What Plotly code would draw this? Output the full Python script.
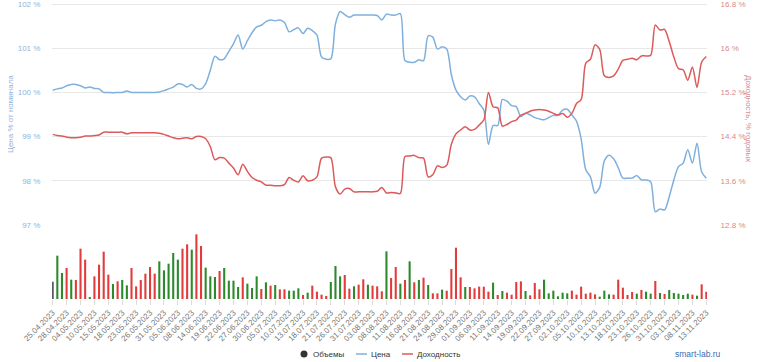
import datetime as dt
import plotly.graph_objects as go

# ---------------- data ----------------
holidays = {"01.05.2023", "09.05.2023", "12.06.2023"}
dates = []
d = dt.date(2023, 4, 25)
while d <= dt.date(2023, 11, 13):
    s = d.strftime("%d.%m.%Y")
    if d.weekday() < 5 and s not in holidays:
        dates.append(s)
    d += dt.timedelta(days=1)

price = [100.05, 100.08, 100.10, 100.15, 100.18, 100.18, 100.15, 100.10, 100.12, 100.09,
         100.08, 100.00, 100.00, 99.99, 100.00, 100.00, 100.03, 100.00, 100.00, 100.00,
         100.00, 100.00, 100.00, 100.01, 100.04, 100.08, 100.12, 100.19, 100.18, 100.12,
         100.18, 100.09, 100.08, 100.20, 100.50, 100.82, 100.74, 100.76, 100.93, 101.10,
         101.30, 100.98, 101.17, 101.35, 101.48, 101.52, 101.60, 101.64, 101.62, 101.64,
         101.58, 101.37, 101.42, 101.46, 101.33, 101.45, 101.40, 101.30, 100.80, 100.75,
         100.76, 101.55, 101.83, 101.76, 101.70, 101.75, 101.75, 101.75, 101.75, 101.75,
         101.74, 101.64, 101.77, 101.75, 101.75, 101.78, 100.72, 100.68, 100.68, 100.74,
         100.72, 101.28, 101.25, 100.98, 101.03, 100.98, 100.40, 100.05, 99.90, 99.83,
         99.92, 99.90, 99.75, 99.60, 98.82, 99.25, 99.25, 99.84, 99.80, 99.70,
         99.68, 99.45, 99.53, 99.49, 99.43, 99.40, 99.38, 99.43, 99.48, 99.48,
         99.60, 99.62, 99.49, 99.35, 98.95, 98.25, 98.09, 97.72, 97.85, 98.45,
         98.58, 98.50, 98.30, 98.06, 98.06, 98.06, 98.12, 98.02, 98.02, 97.98,
         97.30, 97.36, 97.34, 97.64, 98.02, 98.32, 98.40, 98.70, 98.40, 98.85,
         98.20, 98.06]

yld = [14.44, 14.42, 14.41, 14.39, 14.38, 14.38, 14.39, 14.41, 14.41, 14.42,
       14.43, 14.48, 14.48, 14.48, 14.48, 14.48, 14.45, 14.47, 14.47, 14.47,
       14.47, 14.47, 14.47, 14.46, 14.44, 14.41, 14.38, 14.36, 14.37, 14.38,
       14.36, 14.40, 14.40, 14.36, 14.22, 13.98, 14.02, 14.01, 13.92, 13.83,
       13.71, 13.90, 13.77, 13.66, 13.61, 13.58, 13.52, 13.52, 13.51, 13.51,
       13.53, 13.66, 13.61, 13.58, 13.69, 13.60, 13.61, 13.67, 14.01, 14.03,
       14.02, 13.49, 13.36, 13.45, 13.46, 13.40, 13.40, 13.40, 13.40, 13.40,
       13.41, 13.48, 13.38, 13.39, 13.38, 13.37, 14.04, 14.05, 14.06, 14.02,
       14.01, 13.67, 13.71, 13.87, 13.84, 13.88, 14.26, 14.45, 14.52, 14.58,
       14.52, 14.53, 14.61, 14.70, 15.20, 14.94, 14.92, 14.59, 14.62, 14.67,
       14.70, 14.79, 14.82, 14.86, 14.88, 14.89, 14.88, 14.86, 14.82, 14.79,
       14.82, 14.75, 14.82, 15.00, 15.07, 15.73, 15.80, 16.06, 15.98, 15.50,
       15.47, 15.50, 15.62, 15.78, 15.80, 15.82, 15.79, 15.86, 15.86, 15.87,
       16.42, 16.33, 16.34, 16.12, 15.84, 15.63, 15.61, 15.42, 15.66, 15.29,
       15.75, 15.85]

volume = [52, 130, 78, 93, 58, 57, 151, 118, 5, 68,
          103, 142, 73, 45, 53, 57, 41, 93, 38, 57,
          76, 96, 76, 113, 86, 106, 138, 118, 151, 164,
          148, 194, 159, 94, 68, 66, 84, 93, 55, 55,
          36, 65, 46, 33, 68, 30, 50, 40, 42, 29,
          29, 25, 25, 32, 12, 19, 40, 22, 13, 9,
          51, 99, 68, 72, 31, 38, 43, 59, 43, 40,
          38, 23, 143, 63, 96, 46, 57, 113, 50, 57,
          64, 42, 17, 17, 28, 25, 90, 154, 65, 36,
          36, 32, 37, 37, 22, 49, 12, 24, 19, 13,
          51, 53, 24, 11, 48, 29, 58, 17, 25, 8,
          19, 17, 25, 13, 37, 16, 19, 14, 7, 25,
          14, 13, 58, 34, 12, 21, 16, 27, 22, 16,
          54, 18, 15, 27, 18, 16, 12, 16, 13, 10,
          44, 22]

# day direction: 1 = up, -1 = down, 0 = first day
direction = [0, 1, 1, -1, 1, -1, -1, -1, 1, -1,
             -1, -1, -1, 1, -1, 1, 1, -1, -1, -1,
             -1, -1, -1, 1, 1, 1, 1, 1, -1, -1,
             1, -1, -1, 1, 1, 1, -1, 1, 1, 1,
             1, -1, 1, 1, 1, -1, 1, -1, 1, -1,
             -1, 1, 1, 1, -1, 1, -1, -1, -1, -1,
             1, 1, 1, -1, -1, 1, -1, -1, 1, -1,
             -1, -1, 1, -1, -1, 1, -1, 1, -1, 1,
             -1, 1, -1, -1, 1, -1, -1, -1, -1, 1,
             -1, -1, -1, -1, -1, 1, -1, 1, -1, -1,
             -1, -1, 1, -1, -1, -1, 1, 1, 1, 1,
             1, 1, -1, -1, -1, -1, -1, -1, 1, 1,
             1, -1, -1, -1, -1, -1, 1, -1, 1, 1,
             -1, 1, -1, 1, 1, 1, 1, 1, -1, 1,
             -1, -1]

price_ticks = [97, 98, 99, 100, 101, 102]
yield_ticks = [12.8, 13.6, 14.4, 15.2, 16.0, 16.8]
yield_tick_labels = ["12.8 %", "13.6 %", "14.4 %", "15.2 %", "16 %", "16.8 %"]
x_tick_labels = dates[::3]
legend_names = ["Объемы", "Цена", "Доходность"]

# ---------------- styling ----------------
BLUE = "#7fb0dd"
RED = "#dc5a5a"
col_map = {1: "#2c8a2c", -1: "#e23b3b", 0: "#555a66"}
bar_colors = [col_map[v] for v in direction]
FONT = "Liberation Sans"
W, H = 758, 362
ML, MR, MT, MB = 52, 51, 1, 63
PW, PH = W - ML - MR, H - MT - MB
TOP_PX, BOT_PX = 4, 225          # pixel rows of the 102 % and 97 % grid lines
PX_PER_UNIT = (BOT_PX - TOP_PX) / 5.0
EXTRA = (TOP_PX - MT) / PX_PER_UNIT


def px_x(px):
    return (px - ML) / PW


def px_y(py):
    return (H - MB - py) / PH


fig = go.Figure()
fig.add_trace(go.Bar(x=dates, y=volume, marker=dict(color=bar_colors, line=dict(width=0)),
                     yaxis="y3", showlegend=False, name=legend_names[0]))
fig.add_trace(go.Scatter(x=dates, y=price, mode="lines", name=legend_names[1],
                         line=dict(color=BLUE, width=1.5, shape="spline", smoothing=0.8),
                         yaxis="y", showlegend=False))
fig.add_trace(go.Scatter(x=dates, y=yld, mode="lines", name=legend_names[2],
                         line=dict(color=RED, width=1.5, shape="spline", smoothing=0.8),
                         yaxis="y2", showlegend=False))

# manual legend (Highcharts-like compact layout)
LEG_Y = 354
shapes = [
    dict(type="circle", xref="paper", yref="paper",
         x0=px_x(300.5), x1=px_x(307.5), y0=px_y(357.5), y1=px_y(350.5),
         fillcolor="#333333", line=dict(width=0)),
    dict(type="line", xref="paper", yref="paper", x0=px_x(356), x1=px_x(367),
         y0=px_y(LEG_Y), y1=px_y(LEG_Y), line=dict(color=BLUE, width=1.5)),
    dict(type="line", xref="paper", yref="paper", x0=px_x(402), x1=px_x(413),
         y0=px_y(LEG_Y), y1=px_y(LEG_Y), line=dict(color=RED, width=1.5)),
]
leg_text = []
for name, x0 in zip(legend_names, [311, 369, 415]):
    leg_text.append(dict(text=name, xref="paper", yref="paper", x=px_x(x0), y=px_y(LEG_Y),
                         xanchor="left", yanchor="middle", showarrow=False,
                         font=dict(family=FONT, size=8, color="#333333")))

fig.update_layout(
    width=W, height=H,
    margin=dict(l=ML, r=MR, t=MT, b=MB, autoexpand=False),
    paper_bgcolor="white", plot_bgcolor="white",
    font=dict(family=FONT, size=8, color="#666"),
    bargap=0.55,
    showlegend=False,
    xaxis=dict(type="category", range=[-0.15, len(dates) - 0.85], anchor="y3",
               tickmode="array", tickvals=x_tick_labels, ticktext=x_tick_labels,
               tickangle=-45, ticks="outside", ticklen=5, tickcolor="#dcdcdc",
               showgrid=False, showline=False, zeroline=False,
               tickfont=dict(size=8, color="#777"), automargin=False),
    yaxis=dict(domain=[px_y(BOT_PX), 1], range=[97, 102 + EXTRA], tickvals=price_ticks,
               ticktext=[f"{v} %" for v in price_ticks], ticklabeloverflow="allow",
               showgrid=True, gridcolor="#e8e8e8", gridwidth=1, zeroline=False,
               ticks="outside", ticklen=9, tickcolor="rgba(0,0,0,0)",
               tickfont=dict(size=8, color="#8fb3dc"), automargin=False),
    yaxis2=dict(domain=[px_y(BOT_PX), 1], range=[12.8, 16.8 + 0.8 * EXTRA], overlaying="y",
                side="right", tickvals=yield_ticks, ticktext=yield_tick_labels,
                ticklabeloverflow="allow",
                showgrid=False, zeroline=False, ticks="outside", ticklen=11,
                tickcolor="rgba(0,0,0,0)",
                tickfont=dict(size=8, color="#d48c8c"), automargin=False),
    yaxis3=dict(domain=[0, px_y(232)], range=[0, 201], visible=False),
    shapes=shapes,
    annotations=leg_text + [
        dict(text="Цена % от номинала", xref="paper", yref="paper", x=px_x(11), y=px_y(114),
             xanchor="center", yanchor="middle",
             textangle=-90, showarrow=False, font=dict(size=8, color="#8fb3dc")),
        dict(text="Доходность, % годовых", xref="paper", yref="paper", x=px_x(749),
             y=px_y(118), xanchor="center", yanchor="middle",
             textangle=90, showarrow=False, font=dict(size=8, color="#d48c8c")),
        dict(text="smart-lab.ru", xref="paper", yref="paper", x=px_x(723), y=px_y(LEG_Y),
             xanchor="right", yanchor="middle", showarrow=False,
             font=dict(size=8.5, color="#3a6bb0")),
    ],
)

fig.write_html("out.html", config={"displayModeBar": False},
               post_script="document.body.style.margin='0px';")
